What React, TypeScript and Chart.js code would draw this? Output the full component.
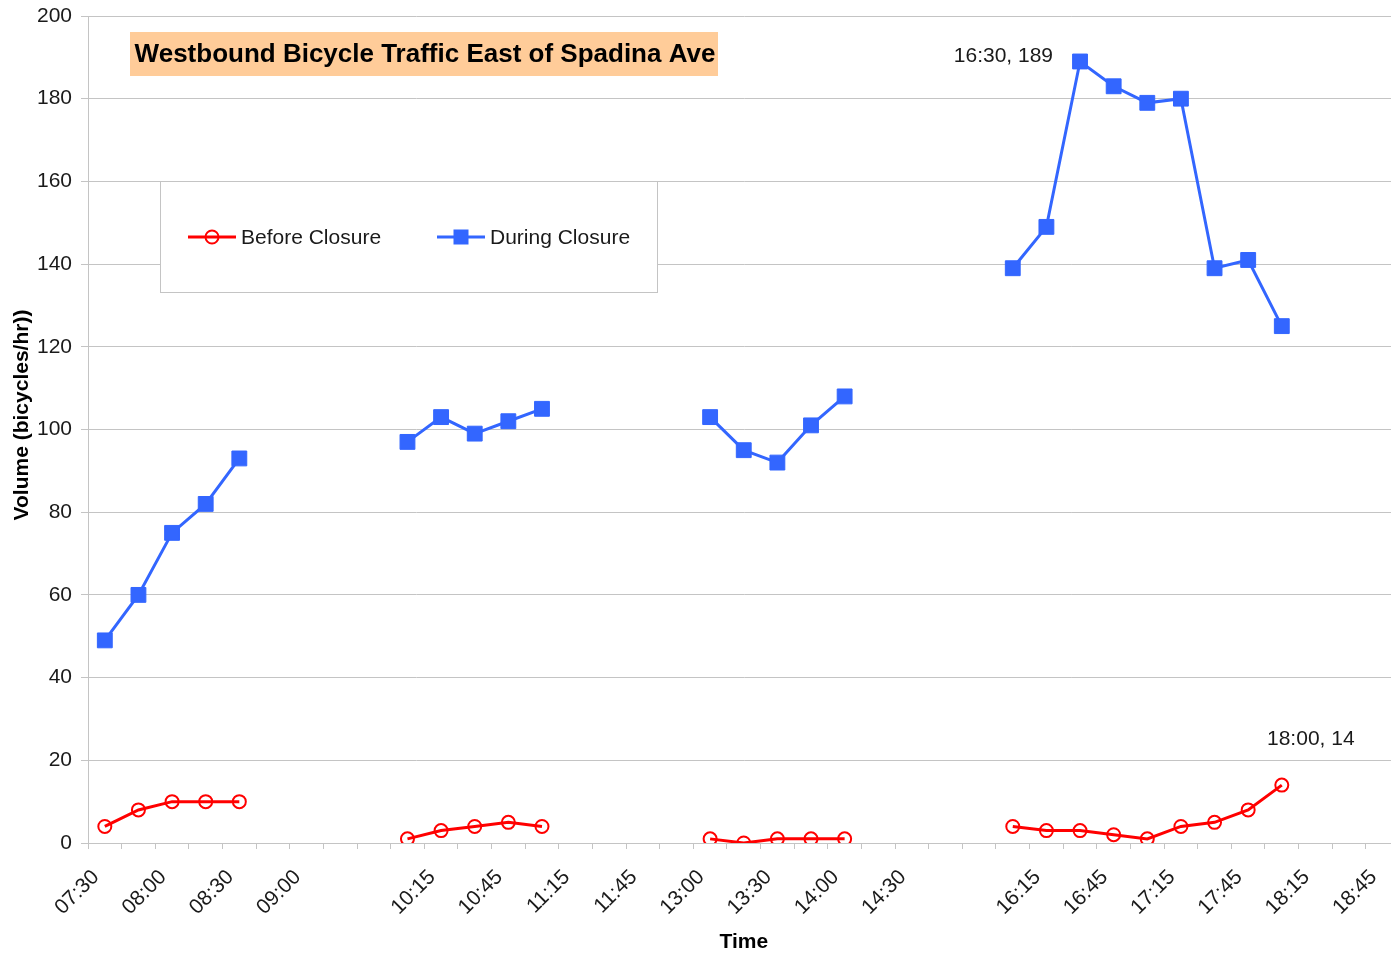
import React, { useEffect, useRef } from 'react';
import { Chart, registerables } from 'chart.js';

Chart.register(...registerables);

// ---- data ----
const categories = [
  '07:30', '07:45', '08:00', '08:15', '08:30', '08:45', '09:00', '09:15', '',
  '10:00', '10:15', '10:30', '10:45', '11:00', '11:15', '11:30', '11:45', '12:00',
  '13:00', '13:15', '13:30', '13:45', '14:00', '14:15', '14:30', '14:45', '',
  '16:00', '16:15', '16:30', '16:45', '17:00', '17:15', '17:30', '17:45', '18:00', '18:15', '18:30', '18:45',
];

const beforeClosure = [
  4, 8, 10, 10, 10, null, null, null, null,
  1, 3, 4, 5, 4, null, null, null, null,
  1, 0, 1, 1, 1, null, null, null, null,
  4, 3, 3, 2, 1, 4, 5, 8, 14, null, null, null,
];

const duringClosure = [
  49, 60, 75, 82, 93, null, null, null, null,
  97, 103, 99, 102, 105, null, null, null, null,
  103, 95, 92, 101, 108, null, null, null, null,
  139, 149, 189, 183, 179, 180, 139, 141, 125, null, null, null,
];

const seriesNames = ['Before Closure', 'During Closure'];
const chartTitle = 'Westbound Bicycle Traffic East of Spadina Ave';
const yAxisTitle = 'Volume (bicycles/hr))';
const xAxisTitle = 'Time';
const yMin = 0;
const yMax = 200;
const yStep = 20;
// annotated points: [datasetIndex, categoryIndex]
const annotated = [
  [1, 29],
  [0, 35],
];

// ---- style ----
const FONT = '"Liberation Sans", Arial, Helvetica, sans-serif';
const RED = '#ff0000';
const BLUE = '#3366ff';
const GRID = '#c4c4c4';
const TEXT = '#1a1a1a';

export default function App() {
  const ref = useRef<HTMLCanvasElement>(null);

  useEffect(() => {
    const canvas = ref.current;
    if (!canvas) return;

    const overlay = {
      id: 'overlay',
      afterDraw(chart: any) {
        const ctx = chart.ctx as CanvasRenderingContext2D;
        const xs = chart.scales.x;
        const ys = chart.scales.y;
        ctx.save();

        // title box
        ctx.fillStyle = '#ffcc99';
        ctx.fillRect(130, 32, 588, 44);
        ctx.fillStyle = '#000';
        ctx.font = `bold 26px ${FONT}`;
        ctx.textAlign = 'center';
        ctx.textBaseline = 'middle';
        ctx.fillText(chartTitle, 425, 55);

        // legend box
        ctx.fillStyle = '#fff';
        ctx.fillRect(160, 181, 497, 111);
        ctx.strokeStyle = GRID;
        ctx.lineWidth = 1;
        ctx.strokeRect(160.5, 181.5, 497, 111);

        const ly = 237;
        const items = [
          { x: 188, color: RED, style: 'circle', text: seriesNames[0] },
          { x: 437, color: BLUE, style: 'rect', text: seriesNames[1] },
        ];
        ctx.font = `21px ${FONT}`;
        ctx.textAlign = 'left';
        ctx.textBaseline = 'middle';
        for (const it of items) {
          ctx.strokeStyle = it.color;
          ctx.lineWidth = 3;
          ctx.beginPath();
          ctx.moveTo(it.x, ly);
          ctx.lineTo(it.x + 48, ly);
          ctx.stroke();
          if (it.style === 'circle') {
            ctx.lineWidth = 2;
            ctx.beginPath();
            ctx.arc(it.x + 24, ly, 6.5, 0, Math.PI * 2);
            ctx.stroke();
          } else {
            ctx.fillStyle = it.color;
            ctx.fillRect(it.x + 24 - 7.5, ly - 7.5, 15, 15);
          }
          ctx.fillStyle = TEXT;
          ctx.fillText(it.text, it.x + 53, ly + 1);
        }

        // data labels
        ctx.font = `21px ${FONT}`;
        ctx.fillStyle = TEXT;
        ctx.textBaseline = 'middle';
        annotated.forEach(([ds, idx], k) => {
          const v = (chart.data.datasets[ds].data as number[])[idx];
          const px = xs.getPixelForValue(idx);
          const py = ys.getPixelForValue(v);
          const txt = `${categories[idx]}, ${v}`;
          if (k === 0) {
            ctx.textAlign = 'right';
            ctx.fillText(txt, px - 27, py - 5);
          } else {
            ctx.textAlign = 'center';
            ctx.fillText(txt, px + 29, py - 46);
          }
        });

        // y axis title
        ctx.translate(22, 415);
        ctx.rotate(-Math.PI / 2);
        ctx.font = `bold 21px ${FONT}`;
        ctx.fillStyle = '#000';
        ctx.textAlign = 'center';
        ctx.textBaseline = 'middle';
        ctx.fillText(yAxisTitle, 0, 0);

        ctx.restore();
      },
    };

    const chart = new Chart(canvas, {
      type: 'line',
      data: {
        labels: categories,
        datasets: [
          {
            label: seriesNames[0],
            data: beforeClosure,
            borderColor: RED,
            backgroundColor: RED,
            borderWidth: 3,
            pointStyle: 'circle',
            pointRadius: 6.5,
            pointBorderWidth: 2,
            pointBackgroundColor: 'rgba(0,0,0,0)',
            pointBorderColor: RED,
            tension: 0,
            spanGaps: false,
          },
          {
            label: seriesNames[1],
            data: duringClosure,
            borderColor: BLUE,
            backgroundColor: BLUE,
            borderWidth: 3,
            pointStyle: 'rect',
            pointRadius: 10.5,
            pointBorderWidth: 1,
            pointBackgroundColor: BLUE,
            pointBorderColor: BLUE,
            tension: 0,
            spanGaps: false,
          },
        ],
      },
      options: {
        responsive: false,
        animation: false,
        devicePixelRatio: 1,
        layout: { padding: { top: 16, left: 0, right: 1, bottom: 0 } },
        plugins: {
          legend: { display: false },
          title: { display: false },
          tooltip: { enabled: false },
        },
        scales: {
          x: {
            type: 'category',
            offset: true,
            grid: {
              display: true,
              drawOnChartArea: false,
              drawTicks: true,
              tickLength: 6,
              offset: true,
              color: GRID,
            },
            border: { display: true, color: GRID },
            ticks: {
              autoSkip: false,
              maxRotation: 45,
              minRotation: 45,
              padding: 16,
              labelOffset: -9,
              color: TEXT,
              font: { family: FONT, size: 21 },
              callback: (_v: any, i: number) => (i % 2 === 0 ? categories[i] : ''),
            },
            title: {
              display: true,
              text: xAxisTitle,
              color: '#000',
              font: { family: FONT, size: 21, weight: 'bold' },
              padding: { top: 0, bottom: -1 },
            },
            afterFit: (s: any) => {
              s.height = 111;
              s.paddingLeft = 0;
              s.paddingRight = 0;
            },
          },
          y: {
            min: yMin,
            max: yMax,
            ticks: {
              stepSize: yStep,
              padding: 9,
              color: TEXT,
              font: { family: FONT, size: 21 },
            },
            grid: { color: GRID, tickLength: 7, lineWidth: 1 },
            border: { display: true, color: GRID },
            afterFit: (s: any) => {
              s.width = 88;
              s.paddingTop = 0;
              s.paddingBottom = 0;
            },
          },
        },
      } as any,
      plugins: [overlay],
    });

    return () => chart.destroy();
  }, []);

  return (
    <div
      style={{
        position: 'fixed',
        left: 0,
        top: 0,
        width: 1391,
        height: 954,
        overflow: 'hidden',
        background: '#fff',
      }}
    >
      <canvas ref={ref} width={1411} height={954} style={{ display: 'block' }} />
    </div>
  );
}
